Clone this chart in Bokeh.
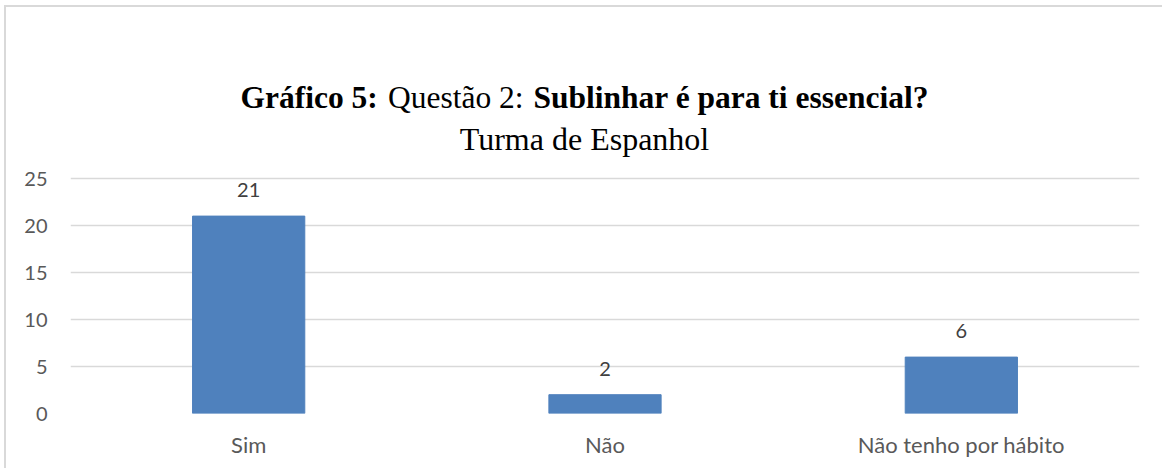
from bokeh.plotting import figure
from bokeh.models import FixedTicker, ColumnDataSource, Range1d
from bokeh.core.properties import value
from bokeh.embed import file_html
from bokeh.resources import INLINE

categories = ["Sim", "Não", "Não tenho por hábito"]
counts = [21, 2, 6]
y_ticks = [0, 5, 10, 15, 20, 25]

title_bold_1 = "Gráfico 5:"
title_normal = "Questão 2:"
title_bold_2 = "Sublinhar é para ti essencial?"
subtitle = "Turma de Espanhol"

AXIS_FONT = "Lato"
SERIF = "Liberation Serif"

src = ColumnDataSource(dict(cat=categories, val=counts, lab=[str(v) for v in counts]))

# frame spans whole canvas height above the axis so the title sits inside it
top_px = 171           # distance from canvas top to the 25 gridline
px_per_unit = 235 / 25
y_max = 25 + top_px / px_per_unit

p = figure(x_range=categories, y_range=Range1d(0, y_max), width=1158, height=463,
           output_backend="svg", toolbar_location=None,
           min_border_left=64, min_border_right=25, min_border_top=0, min_border_bottom=57)
p.x_range.range_padding = 0
p.outline_line_color = None
p.background_fill_color = "white"
p.border_fill_color = "white"
p.styles = {"margin-left": "4px", "margin-top": "5px",
            "border-left": "2px solid #D9D9D9", "border-top": "2px solid #D9D9D9"}

p.vbar(x="cat", top="val", width=0.315, bottom=0, source=src,
       fill_color="#4F81BD", line_color="#4F81BD")

p.text(x="cat", y="val", text="lab", source=src, y_offset=-26,
       text_align="center", text_baseline="alphabetic",
       text_font=value(AXIS_FONT), text_font_size="20px", text_color="#404040")

# axes
p.yaxis.ticker = FixedTicker(ticks=y_ticks)
p.yaxis.axis_line_color = None
p.yaxis.major_tick_line_color = None
p.yaxis.minor_tick_line_color = None
p.yaxis.major_label_standoff = 17
p.yaxis.major_label_text_font = AXIS_FONT
p.yaxis.major_label_text_font_size = "20px"
p.yaxis.major_label_text_color = "#595959"

p.xaxis.axis_line_color = None
p.xaxis.major_tick_line_color = None
p.xaxis.minor_tick_line_color = None
p.xaxis.major_label_standoff = 11
p.xaxis.major_label_text_font = AXIS_FONT
p.xaxis.major_label_text_font_size = "22px"
p.xaxis.major_label_text_color = "#595959"

p.xgrid.grid_line_color = None
p.ygrid.ticker = FixedTicker(ticks=y_ticks)
p.ygrid.grid_line_color = "#D9D9D9"
p.ygrid.grid_line_width = 1.5

# title pieces, drawn as text glyphs above the 25 gridline
cat_px = 1069 / 3
base1 = 25 + 81 / px_per_unit
base2 = 25 + 40 / px_per_unit
title_src = ColumnDataSource(dict(
    x=[170 / cat_px, 317.5 / cat_px, 463 / cat_px],
    y=[base1, base1, base1],
    t=[title_bold_1, title_normal, title_bold_2],
    s=["bold", "normal", "bold"],
))
p.text(x="x", y="y", text="t", text_font_style="s", source=title_src,
       text_font=value(SERIF), text_font_size="31.5px", text_color="black",
       text_align="left", text_baseline="alphabetic")
p.text(x=[514 / cat_px], y=[base2], text=[subtitle],
       text_font=value(SERIF), text_font_size="32px", text_color="black",
       text_align="center", text_baseline="alphabetic")

open("out.html", "w").write(file_html(p, INLINE))
